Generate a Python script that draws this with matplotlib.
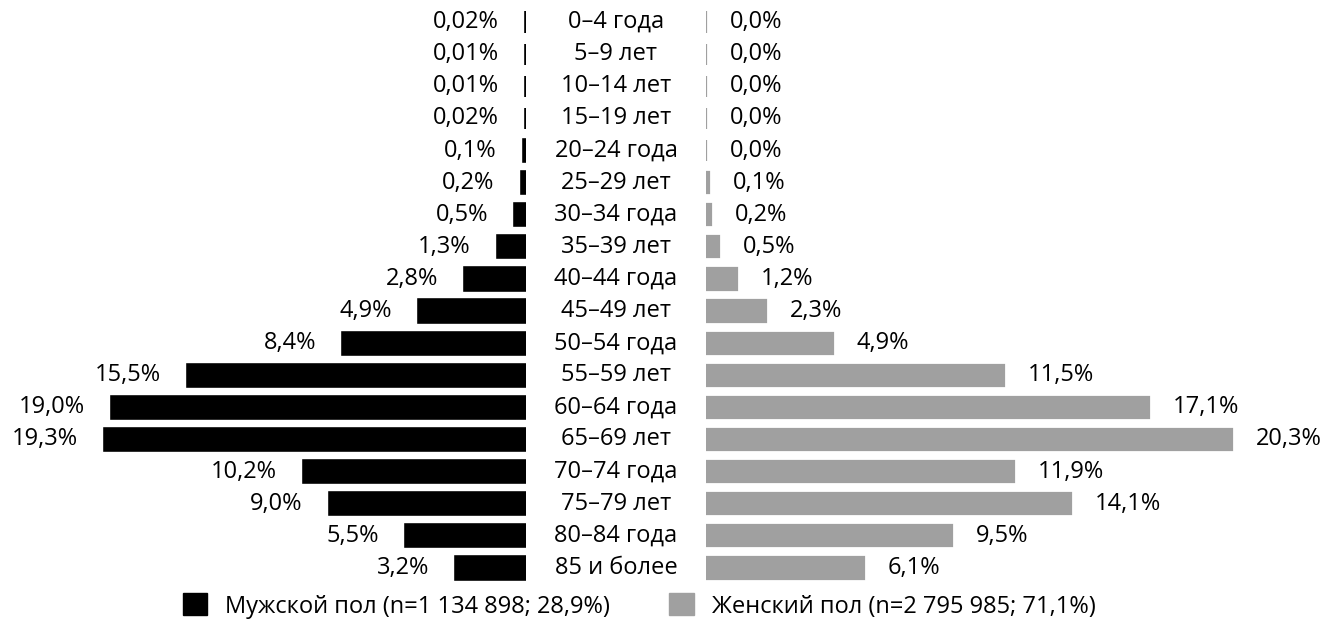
import matplotlib.pyplot as plt
from matplotlib.patches import Patch

plt.rcParams['font.family'] = ['Open Sans', 'DejaVu Sans']

ages = ['0–4 года', '5–9 лет', '10–14 лет', '15–19 лет', '20–24 года', '25–29 лет',
        '30–34 года', '35–39 лет', '40–44 года', '45–49 лет', '50–54 года', '55–59 лет',
        '60–64 года', '65–69 лет', '70–74 года', '75–79 лет', '80–84 года', '85 и более']
men = [0.02, 0.01, 0.01, 0.02, 0.1, 0.2, 0.5, 1.3, 2.8, 4.9, 8.4, 15.5,
       19.0, 19.3, 10.2, 9.0, 5.5, 3.2]
women = [0.0, 0.0, 0.0, 0.0, 0.0, 0.1, 0.2, 0.5, 1.2, 2.3, 4.9, 11.5,
         17.1, 20.3, 11.9, 14.1, 9.5, 6.1]
men_lbl = ['0,02%', '0,01%', '0,01%', '0,02%', '0,1%', '0,2%', '0,5%', '1,3%', '2,8%',
           '4,9%', '8,4%', '15,5%', '19,0%', '19,3%', '10,2%', '9,0%', '5,5%', '3,2%']
women_lbl = ['0,0%', '0,0%', '0,0%', '0,0%', '0,0%', '0,1%', '0,2%', '0,5%', '1,2%',
             '2,3%', '4,9%', '11,5%', '17,1%', '20,3%', '11,9%', '14,1%', '9,5%', '6,1%']
legend_lbl = ['Мужской пол (n=1 134 898; 28,9%)', 'Женский пол (n=2 795 985; 71,1%)']

W, H = 1339, 620
fig = plt.figure(figsize=(W / 100, H / 100), dpi=100)

top, bot = 6, 584
yb = (H - bot) / H
hh = (bot - top) / H
ax_l = fig.add_axes([0, yb, 526 / W, hh])
ax_m = fig.add_axes([526 / W, yb, 180 / W, hh])
ax_r = fig.add_axes([706 / W, yb, (W - 706) / W, hh])

n = len(ages)
y = list(range(n))
fs = 17

ax_l.barh(y, men, height=0.66, color='black', edgecolor='black', linewidth=2.6)
ax_l.set_xlim(526 / 21.8, 0)
for i in y:
    ax_l.annotate(men_lbl[i], xy=(men[i], i), xytext=(-27, 0), textcoords='offset pixels',
                  ha='right', va='center', fontsize=fs)

ax_r.barh(y, women, height=0.66, color='#a0a0a0', edgecolor='#a0a0a0', linewidth=1.6)
ax_r.set_xlim(0, (W - 706) / 25.9)
for i in y:
    ax_r.annotate(women_lbl[i], xy=(women[i], i), xytext=(24, 0), textcoords='offset pixels',
                  ha='left', va='center', fontsize=fs)

tr = ax_m.get_yaxis_transform()
for i in y:
    ax_m.text(0.5, i, ages[i], transform=tr, ha='center', va='center', fontsize=fs)

for ax in (ax_l, ax_m, ax_r):
    ax.set_ylim(n - 0.5, -0.5)
    ax.axis('off')

handles = [Patch(color='black'), Patch(color='#a0a0a0')]
fig.legend(handles, legend_lbl, loc='center', bbox_to_anchor=(639 / W, 1 - 606 / H),
           ncol=2, frameon=False, fontsize=fs, handlelength=1.05, handleheight=1.05,
           handletextpad=0.75, columnspacing=2.5, borderpad=0)

fig.savefig('out.png', dpi=100)
